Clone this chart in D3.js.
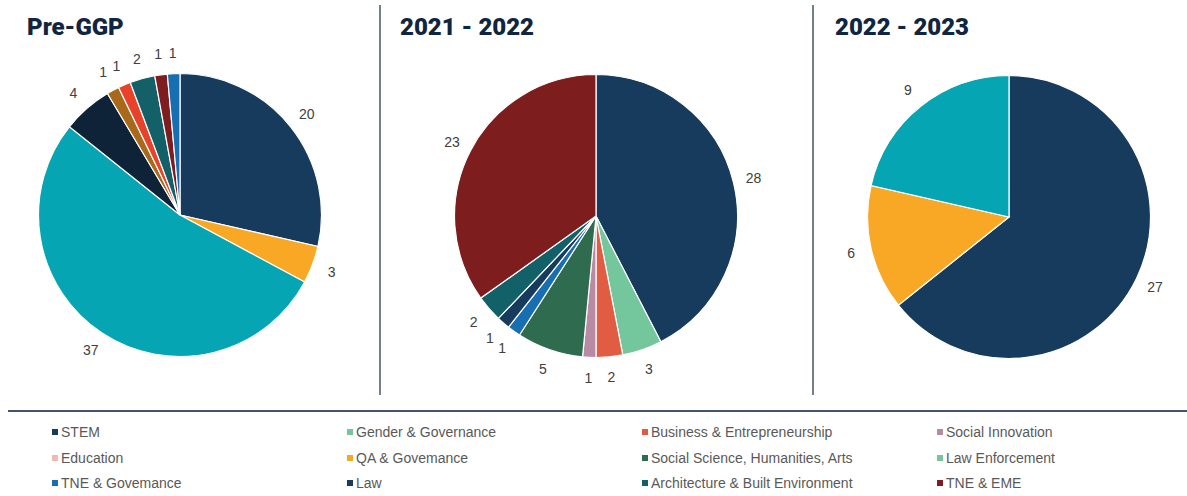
<!DOCTYPE html>
<html>
<head>
<meta charset="utf-8">
<script src="https://cdn.jsdelivr.net/npm/d3@7"></script>
<style>
  html, body { margin: 0; padding: 0; background: #ffffff; }
  svg { display: block; }
</style>
</head>
<body>
<svg id="chart" width="1187" height="496"></svg>
<script>
// Panel titles
const pieTitles = ["Pre-GGP", "2021 - 2022", "2022 - 2023"];

// Pre-GGP slices (clockwise from 12 o'clock)
const preGgpValues = [20, 3, 37, 4, 1, 1, 2, 1, 1];
const preGgpColors = ["#173b5c", "#f9a825", "#05a5b3", "#0e2238", "#a8691a", "#e8432a", "#136068", "#7e1d20", "#176eb0"];

// 2021 - 2022 slices
const y2122Values = [28, 3, 2, 1, 5, 1, 1, 2, 23];
const y2122Colors = ["#173b5c", "#74c69d", "#e05d44", "#b88aa4", "#2e6b4f", "#176eb0", "#173b5c", "#126068", "#7e1d1e"];

// 2022 - 2023 slices
const y2223Values = [27, 6, 9];
const y2223Colors = ["#173b5c", "#f9a825", "#05a5b3"];

// Legend entries (row by row, four columns)
const legendLabels = [
  "STEM", "Gender & Governance", "Business & Entrepreneurship", "Social Innovation",
  "Education", "QA & Govemance", "Social Science, Humanities, Arts", "Law Enforcement",
  "TNE & Govemance", "Law", "Architecture & Built Environment", "TNE & EME"
];
const legendColors = [
  "#173b5c", "#74c69d", "#e05d44", "#b88aa4",
  "#f4b8b0", "#f9a825", "#2e6b4f", "#74c69d",
  "#176eb0", "#173b5c", "#126068", "#7e1d1e"
];

const svg = d3.select("#chart");

const panels = [
  { title: pieTitles[0], values: preGgpValues, colors: preGgpColors, cx: 180, cy: 215, tx: 27 },
  { title: pieTitles[1], values: y2122Values, colors: y2122Colors, cx: 596, cy: 216, tx: 400 },
  { title: pieTitles[2], values: y2223Values, colors: y2223Colors, cx: 1009, cy: 217, tx: 835 }
];

const radius = 141.5;
const labelRadius = 162;

const pie = d3.pie().sort(null).value(d => d);
const arc = d3.arc().innerRadius(0).outerRadius(radius);
const labelArc = d3.arc().innerRadius(labelRadius).outerRadius(labelRadius);

panels.forEach(p => {
  svg.append("text")
    .attr("x", p.tx)
    .attr("y", 35)
    .attr("font-family", "Roboto, 'Liberation Sans', sans-serif")
    .attr("font-weight", 900)
    .attr("font-size", 24)
    .attr("fill", "#10253f")
    .text(p.title);

  const g = svg.append("g").attr("transform", `translate(${p.cx},${p.cy})`);
  const arcs = pie(p.values);

  g.selectAll("path")
    .data(arcs)
    .join("path")
    .attr("d", arc)
    .attr("fill", (d, i) => p.colors[i])
    .attr("stroke", "#ffffff")
    .attr("stroke-width", 1.2);

  g.selectAll("text")
    .data(arcs)
    .join("text")
    .attr("transform", d => `translate(${labelArc.centroid(d)})`)
    .attr("text-anchor", "middle")
    .attr("dy", "0.35em")
    .attr("font-family", "'Liberation Sans', Arial, sans-serif")
    .attr("font-size", 14)
    .attr("fill", "#404040")
    .text(d => d.data);
});

// Divider lines
[380, 813].forEach(x => {
  svg.append("line")
    .attr("x1", x).attr("x2", x)
    .attr("y1", 5).attr("y2", 395)
    .attr("stroke", "#44546a")
    .attr("stroke-width", 1.5);
});
svg.append("line")
  .attr("x1", 8).attr("x2", 1187)
  .attr("y1", 411).attr("y2", 411)
  .attr("stroke", "#44546a")
  .attr("stroke-width", 2);

// Legend
const colX = [52, 347, 642, 937];
const rowY = [432, 458, 483];
const legend = svg.append("g");
const items = legend.selectAll("g")
  .data(legendLabels)
  .join("g")
  .attr("transform", (d, i) => `translate(${colX[i % 4]},${rowY[Math.floor(i / 4)]})`);
items.append("rect")
  .attr("x", 0).attr("y", -3)
  .attr("width", 6).attr("height", 6)
  .attr("fill", (d, i) => legendColors[i]);
items.append("text")
  .attr("x", 9)
  .attr("dy", "0.35em")
  .attr("font-family", "'Liberation Sans', Arial, sans-serif")
  .attr("font-size", 14)
  .attr("fill", "#595959")
  .text(d => d);
</script>
</body>
</html>
